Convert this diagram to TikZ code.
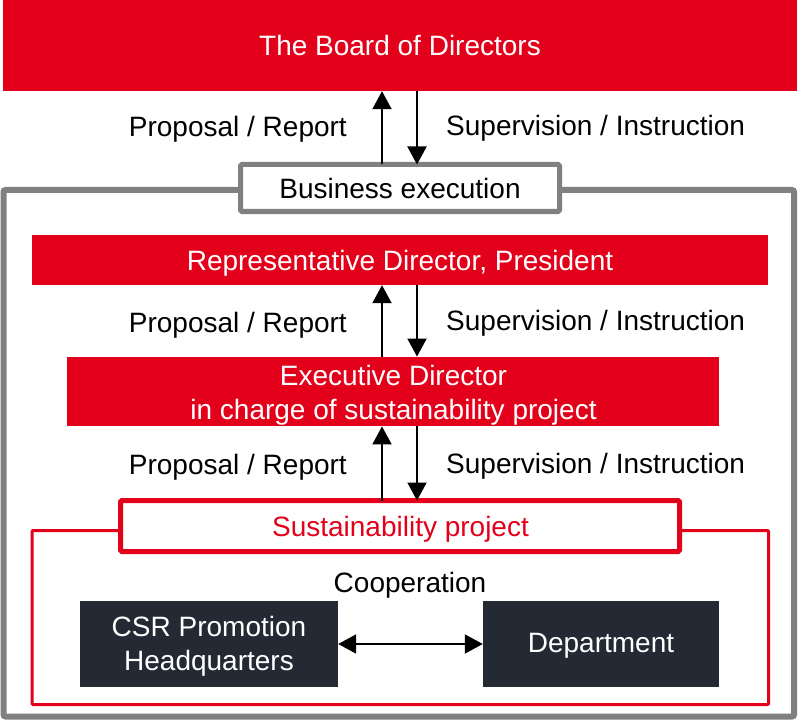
\documentclass[tikz,border=0pt]{standalone}
\usepackage{fontspec}
\setmainfont{Liberation Sans}
\usetikzlibrary{arrows.meta}
\definecolor{cred}{HTML}{E3001B}
\definecolor{cdark}{HTML}{232A34}
\definecolor{cgray}{HTML}{808080}
\begin{document}
\begin{tikzpicture}[x=1pt,y=-1pt,
  >={Triangle[length=18pt,width=19pt]},
  every node/.style={font=\fontsize{28}{34}\selectfont, inner sep=0pt, align=center},
  redbar/.style={rectangle, fill=cred},
  darkbox/.style={rectangle, fill=cdark},
  wtext/.style={text=white},
  flow/.style={line width=2pt, ->},
  lbl/.style={text=black}]
\useasboundingbox (0,0) rectangle (800,722);
% outer gray frame
\draw[cgray, line width=6pt, rounded corners=2pt] (3.5,190) rectangle (794,716.5);
% red thin frame
\draw[cred, line width=3pt, rounded corners=1pt] (32,530.5) rectangle (768.5,704.5);
% boxes
\node[redbar, minimum width=794pt, minimum height=91pt] (board) at (400,45.5) {};
\node[wtext] (boardt) at (400,45.5) {The Board of Directors};
\node[rectangle, draw=cgray, line width=5pt, fill=white, minimum width=319pt, minimum height=47pt, rounded corners=1.5pt] (biz) at (400,188) {};
\node[lbl] (bizt) at (400,188.3) {Business execution};
\node[redbar, minimum width=736pt, minimum height=50pt] (rep) at (400,260) {};
\node[wtext] (rept) at (400,263) {Representative Director, President};
\node[redbar, minimum width=652.5pt, minimum height=69.5pt] (exec) at (393.2,391.5) {};
\node[wtext] (exect) at (393.5,395) {Executive Director\\in charge of sustainability project};
\node[rectangle, draw=cred, line width=5pt, fill=white, minimum width=559pt, minimum height=51pt, rounded corners=1.5pt] (sus) at (400,526) {};
\node[text=cred] (sust) at (400.5,529) {Sustainability project};
\node[darkbox, minimum width=258pt, minimum height=86pt] (csr) at (209,644) {};
\node[wtext, font=\fontsize{28}{33.3}\selectfont] (csrt) at (209,646.3) {CSR Promotion\\Headquarters};
\node[darkbox, minimum width=236pt, minimum height=86pt] (dept) at (601,644) {};
\node[wtext] (deptt) at (601,645.7) {Department};
\node[lbl] (coop) at (410,585) {Cooperation};
% arrows
\draw[flow] ([yshift=-2.5pt]biz.north -| 382,0) -- (board.south -| 382,0);
\draw[flow] (board.south -| 417,0) -- ([yshift=-2.5pt]biz.north -| 417,0);
\draw[flow] (exec.north -| 382,0) -- (rep.south -| 382,0);
\draw[flow] (rep.south -| 417,0) -- (exec.north -| 417,0);
\draw[flow] ([yshift=-2.5pt]sus.north -| 382,0) -- (exec.south -| 382,0);
\draw[flow] (exec.south -| 417,0) -- ([yshift=-2.5pt]sus.north -| 417,0);
\draw[line width=2pt, <->] (csr.east) -- (dept.west);
% labels
\node[lbl, anchor=east] (l1) at (347,129) {Proposal / Report};
\node[lbl, anchor=west] (r1) at (446,128) {Supervision / Instruction};
\node[lbl, anchor=east] (l2) at (347,325.3) {Proposal / Report};
\node[lbl, anchor=west] (r2) at (446,323.7) {Supervision / Instruction};
\node[lbl, anchor=east] (l3) at (347,467) {Proposal / Report};
\node[lbl, anchor=west] (r3) at (446,466) {Supervision / Instruction};
\end{tikzpicture}
\end{document}
